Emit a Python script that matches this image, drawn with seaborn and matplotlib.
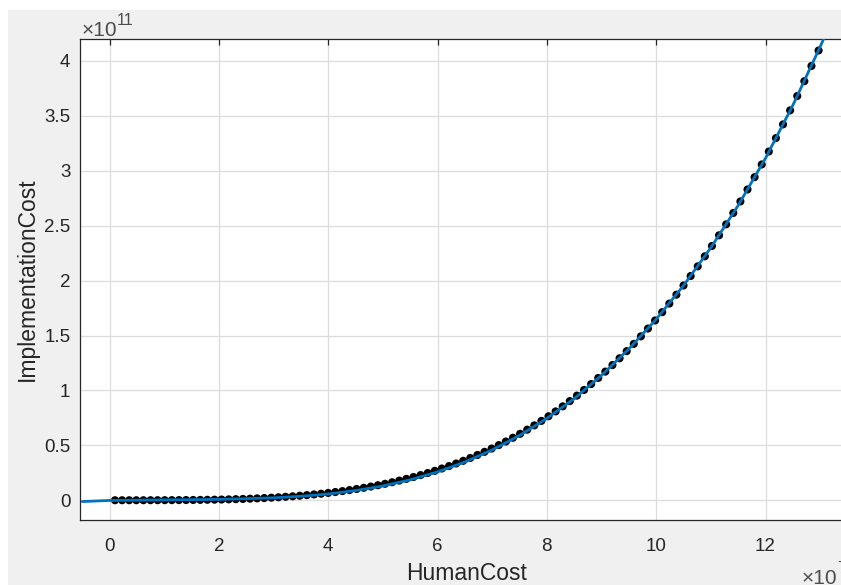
#libraries
import numpy as np
import pandas as pd
import seaborn as sns
import matplotlib
matplotlib.use("Agg")
import matplotlib.pyplot as plt
from matplotlib.patches import Rectangle

#data (y in units of 1e11)
human_cost = [0.10, 0.23, 0.36, 0.49, 0.62, 0.75, 0.88, 1.01, 1.14, 1.27,
              1.40, 1.53, 1.66, 1.79, 1.92, 2.05, 2.18, 2.31, 2.44, 2.57,
              2.70, 2.83, 2.96, 3.09, 3.22, 3.35, 3.48, 3.61, 3.74, 3.87,
              4.00, 4.13, 4.26, 4.39, 4.52, 4.65, 4.78, 4.91, 5.04, 5.17,
              5.30, 5.43, 5.56, 5.69, 5.82, 5.95, 6.08, 6.21, 6.34, 6.47,
              6.60, 6.73, 6.86, 6.99, 7.12, 7.25, 7.38, 7.51, 7.64, 7.77,
              7.90, 8.03, 8.16, 8.29, 8.42, 8.55, 8.68, 8.81, 8.94, 9.07,
              9.20, 9.33, 9.46, 9.59, 9.72, 9.85, 9.98, 10.11, 10.24, 10.37,
              10.50, 10.63, 10.76, 10.89, 11.02, 11.15, 11.28, 11.41, 11.54, 11.67,
              11.80, 11.93, 12.06, 12.19, 12.32, 12.45, 12.58, 12.71, 12.84, 12.97]
impl_cost = [0.0000, 0.0000, 0.0000, 0.0000, 0.0001, 0.0002, 0.0003, 0.0005, 0.0008, 0.0012,
             0.0017, 0.0023, 0.0031, 0.0040, 0.0051, 0.0064, 0.0080, 0.0098, 0.0118, 0.0142,
             0.0169, 0.0199, 0.0233, 0.0270, 0.0312, 0.0359, 0.0410, 0.0466, 0.0527, 0.0594,
             0.0667, 0.0746, 0.0832, 0.0924, 0.1023, 0.1130, 0.1245, 0.1367, 0.1498, 0.1638,
             0.1787, 0.1945, 0.2113, 0.2290, 0.2479, 0.2678, 0.2889, 0.3111, 0.3345, 0.3591,
             0.3851, 0.4122, 0.4407, 0.4707, 0.5020, 0.5348, 0.5692, 0.6049, 0.6425, 0.6817,
             0.7225, 0.7649, 0.8089, 0.8549, 0.9028, 0.9526, 1.0042, 1.0580, 1.1135, 1.1714,
             1.2311, 1.2929, 1.3575, 1.4236, 1.4924, 1.5636, 1.6369, 1.7126, 1.7908, 1.8718,
             1.9554, 2.0415, 2.1297, 2.2211, 2.3156, 2.4124, 2.5123, 2.6156, 2.7210, 2.8298,
             2.9420, 3.0575, 3.1753, 3.2976, 3.4223, 3.5502, 3.6808, 3.8157, 3.9544, 4.0953]

#fitted curve
fit_x = [-0.5, 0.0, 0.5, 1.0, 1.5, 2.0, 2.5, 3.0, 3.5, 4.0, 4.5, 5.0, 5.5, 6.0, 6.5,
         7.0, 7.5, 8.0, 8.5, 9.0, 9.5, 10.0, 10.5, 11.0, 11.5, 12.0, 12.5, 13.0, 13.5]
fit_y = [-0.012, -0.002, 0.001, 0.003, 0.005, 0.008, 0.014, 0.022, 0.036, 0.057, 0.088,
         0.130, 0.186, 0.258, 0.348, 0.458, 0.590, 0.745, 0.925, 1.137, 1.378, 1.648,
         1.955, 2.300, 2.685, 3.115, 3.597, 4.130, 4.700]

x_ticks = [0, 2, 4, 6, 8, 10, 12]
y_ticks = [0, 0.5, 1, 1.5, 2, 2.5, 3, 3.5, 4]

df = pd.DataFrame({'HumanCost': human_cost, 'ImplementationCost': impl_cost})
fit = pd.DataFrame({'x': fit_x, 'y': fit_y})

#style
sns.set_style("white")
plt.rcParams['font.family'] = ['Liberation Sans', 'DejaVu Sans']
txt_color = '#262626'

W, H = 841, 585
fig = plt.figure(figsize=(W / 100, H / 100), dpi=100, facecolor='white')
fig.patches.append(Rectangle((8 / W, 0), 1, (H - 10) / H, transform=fig.transFigure,
                             facecolor='#f0f0f0', edgecolor='none', zorder=-10))

ax_left, ax_right = 80, 853
ax_top, ax_bottom = 39, 520
ax = fig.add_axes([ax_left / W, (H - ax_bottom) / H,
                   (ax_right - ax_left) / W, (ax_bottom - ax_top) / H])
ax.set_facecolor('white')

sns.scatterplot(data=df, x='HumanCost', y='ImplementationCost', ax=ax,
                color='black', s=34, edgecolor='none', zorder=2, legend=False)
sns.lineplot(data=fit, x='x', y='y', ax=ax, color='#0072BD', linewidth=2.0,
             sort=False, estimator=None, zorder=3)

ax.set_xlim(-0.54, 13.6)
ax.set_ylim(-0.18, 4.2)
ax.set_xticks(x_ticks)
ax.set_yticks(y_ticks)
ax.set_xticklabels(['%g' % t for t in x_ticks])
ax.set_yticklabels(['%g' % t for t in y_ticks])
ax.grid(True, color='#dcdcdc', linewidth=0.9)
ax.set_axisbelow(True)

ax.tick_params(axis='x', pad=13)
ax.tick_params(axis='y', pad=7)
ax.tick_params(axis='both', direction='in', length=4, width=0.9, colors=txt_color,
               labelsize=13.5, top=True, right=True)
for sp in ax.spines.values():
    sp.set_color(txt_color)
    sp.set_linewidth(0.9)

ax.set_xlabel('HumanCost', fontsize=16.5, color=txt_color, labelpad=5)
ax.set_ylabel('ImplementationCost', fontsize=16.5, color=txt_color, labelpad=4)

#exponent labels
exp_color = '#4d4d4d'
fig.text(82 / W, 1 - 36 / H, '×10', fontsize=15, color=exp_color, ha='left', va='baseline')
fig.text(117 / W, 1 - 25 / H, '11', fontsize=11.5, color=exp_color, ha='left', va='baseline')
fig.text(802 / W, 1 - 584 / H, '×10', fontsize=15, color=exp_color, ha='left', va='baseline')
fig.text(837 / W, 1 - 573 / H, '7', fontsize=11.5, color=exp_color, ha='left', va='baseline')

fig.savefig('out.png', dpi=100, facecolor=fig.get_facecolor())
